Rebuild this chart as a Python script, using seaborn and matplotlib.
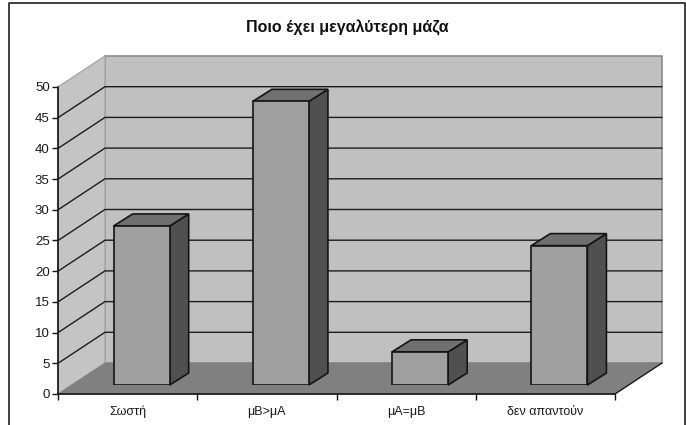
import matplotlib
matplotlib.use("Agg")
import matplotlib.pyplot as plt
from matplotlib.patches import Polygon
import seaborn as sns

categories = ["Σωστή", "μΒ>μΑ", "μΑ=μΒ", "δεν απαντούν"]
values = [25.9, 46.2, 5.4, 22.7]
y_ticks = list(range(0, 51, 5))
title = "Ποιο έχει μεγαλύτερη μάζα"

W, H = 686, 425
# plot box of the front plane, in pixels
LEFT, RIGHT, BASE, TOP = 58, 615, 394, 87
DEPTH_X, DEPTH_Y = 47, 31          # offset from front plane to back wall
BAR_SHIFT_X, BAR_SHIFT_Y = 14, 9   # offset from front plane to bar fronts
BAR_DX, BAR_DY = 19, 12            # depth of one bar

sns.set_theme(style="white")
plt.rcParams["font.family"] = ["Liberation Sans", "DejaVu Sans"]

fig = plt.figure(figsize=(W / 100, H / 100), dpi=100, facecolor="white")


def box(l, b):
    return [l / W, 1 - b / H, (RIGHT - LEFT) / W, (BASE - TOP) / H]


ax = fig.add_axes(box(LEFT, BASE))
ax.set_xlim(-0.5, len(categories) - 0.5)
ax.set_ylim(0, 50)
ax.patch.set_alpha(0)

px_x = (len(categories)) / (RIGHT - LEFT)
px_y = 50 / (BASE - TOP)
dx = DEPTH_X * px_x
dy = DEPTH_Y * px_y
x0, x1 = -0.5, len(categories) - 0.5

# chart frame, open along the lower edge
fig.add_artist(plt.Line2D([9 / W, 9 / W, 684.5 / W, 684.5 / W], [0, 1 - 3 / H, 1 - 3 / H, 0],
                          color="#303030", lw=1.3))

# back wall, side wall and floor
ax.add_patch(Polygon([(x0 + dx, dy), (x1 + dx, dy), (x1 + dx, 50 + dy), (x0 + dx, 50 + dy)],
                     fc="#c0c0c0", ec="#8c8c8c", lw=1.2, clip_on=False, zorder=1))
ax.add_patch(Polygon([(x0, 0), (x0 + dx, dy), (x0 + dx, 50 + dy), (x0, 50)],
                     fc="#c4c4c4", ec="#a8a8a8", lw=1.0, clip_on=False, zorder=1))
ax.add_patch(Polygon([(x0, 0), (x1, 0), (x1 + dx, dy), (x0 + dx, dy)],
                     fc="#808080", ec="#808080", lw=0.5, clip_on=False, zorder=2))

# gridlines wrap from the front axis round the side wall to the back wall
for t in y_ticks[1:-1]:
    ax.plot([x0, x0 + dx, x1 + dx], [t, t + dy, t + dy], color="#1c1c1c", lw=1.0,
            clip_on=False, zorder=3, solid_joinstyle="miter")

ax.plot([x1, x1 + dx], [0, dy], color="#1c1c1c", lw=1.0, clip_on=False, zorder=3)

# bars live on an axes with the same scales, shifted into the depth of the box
bar_ax = fig.add_axes(box(LEFT + BAR_SHIFT_X, BASE - BAR_SHIFT_Y))
bar_ax.patch.set_alpha(0)
sns.barplot(x=categories, y=values, ax=bar_ax, width=56 / 139, color="#a0a0a0",
            saturation=1, edgecolor="#141414", linewidth=1.2, zorder=6)
bar_ax.set_xlim(-0.5, len(categories) - 0.5)
bar_ax.set_ylim(0, 50)
bar_ax.axis("off")

bdx = BAR_DX * px_x
bdy = BAR_DY * px_y
for bar in list(bar_ax.patches):
    l, w, h = bar.get_x(), bar.get_width(), bar.get_height()
    r = l + w
    bar_ax.add_patch(Polygon([(r, 0), (r + bdx, bdy), (r + bdx, h + bdy), (r, h)],
                             fc="#505050", ec="#141414", lw=1.2, clip_on=False, zorder=5))
    bar_ax.add_patch(Polygon([(l, h), (l + bdx, h + bdy), (r + bdx, h + bdy), (r, h)],
                             fc="#707070", ec="#141414", lw=1.2, clip_on=False, zorder=5))

# axes lines, ticks and labels in front of the floor
sns.despine(ax=ax, top=True, right=True)
for side in ("left", "bottom"):
    ax.spines[side].set_color("#141414")
    ax.spines[side].set_linewidth(1.2)
    ax.spines[side].set_zorder(8)
ax.set_zorder(0)
bar_ax.set_zorder(1)

ax.set_yticks(y_ticks)
ax.set_xticks([i - 0.5 for i in range(len(categories) + 1)], labels=[""] * (len(categories) + 1))
ax.tick_params(axis="both", length=4, width=1.0, color="#141414", direction="out",
               left=True, bottom=True)
ax.tick_params(axis="y", labelsize=9.5, labelcolor="#1a1a1a", pad=2)

for i, label in enumerate(categories):
    ax.annotate(label, xy=(i, 0), xytext=(0, -13), textcoords="offset points",
                ha="center", va="center", fontsize=9, color="#1a1a1a",
                annotation_clip=False)

fig.text(347 / W, 1 - 28 / H, title, ha="center", va="center", fontsize=11.5,
         fontweight="bold", color="#111111")

fig.savefig("out.png", dpi=100, facecolor="white")
